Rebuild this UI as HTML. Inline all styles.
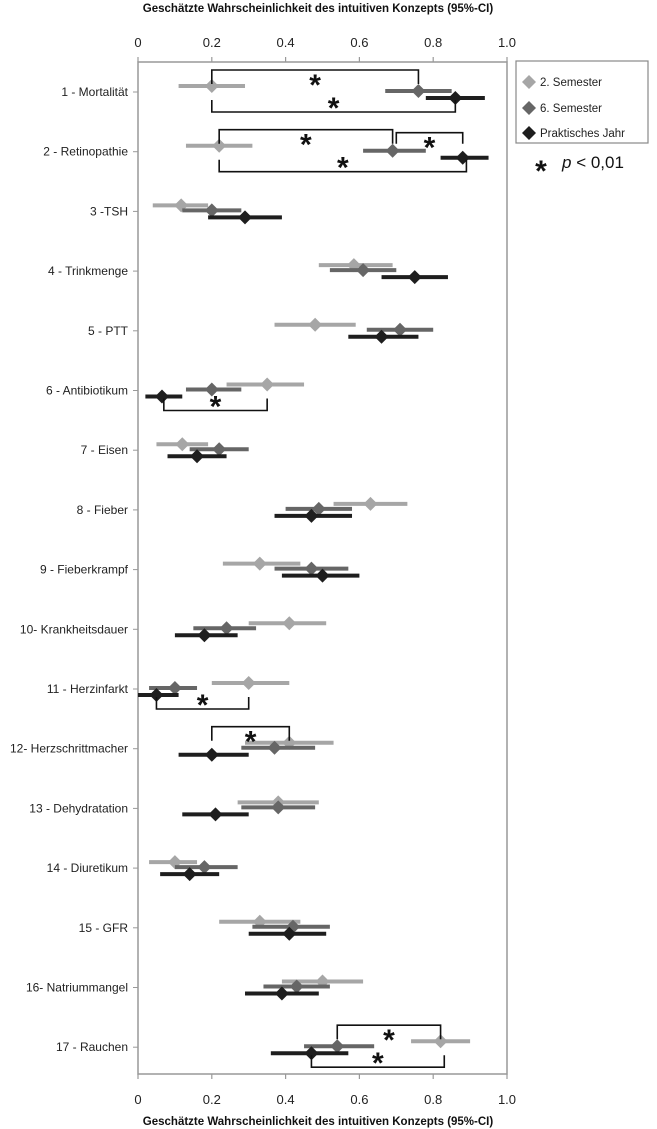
<!DOCTYPE html>
<html><head><meta charset="utf-8"><style>body{margin:0;background:#fff}svg{display:block;font-family:"Liberation Sans",Arial,sans-serif}</style></head>
<body>
<svg id="c" width="657" height="1129" viewBox="0 0 657 1129"></svg>
<script>
const categories=["1 - Mortalität","2 - Retinopathie","3 -TSH","4 - Trinkmenge","5 - PTT","6 - Antibiotikum","7 - Eisen","8 - Fieber","9 - Fieberkrampf","10- Krankheitsdauer","11 - Herzinfarkt","12- Herzschrittmacher","13 - Dehydratation","14 - Diuretikum","15 - GFR","16- Natriummangel","17 - Rauchen"];
const sem2=[0.20,0.22,0.117,0.585,0.48,0.35,0.12,0.63,0.33,0.41,0.30,0.41,0.38,0.10,0.33,0.50,0.82];
const sem2Lo=[0.11,0.13,0.04,0.49,0.37,0.24,0.05,0.53,0.23,0.30,0.20,0.29,0.27,0.03,0.22,0.39,0.74];
const sem2Hi=[0.29,0.31,0.19,0.69,0.59,0.45,0.19,0.73,0.44,0.51,0.41,0.53,0.49,0.16,0.44,0.61,0.90];
const sem6=[0.76,0.69,0.20,0.61,0.71,0.20,0.22,0.49,0.47,0.24,0.10,0.37,0.38,0.18,0.42,0.43,0.54];
const sem6Lo=[0.67,0.61,0.12,0.52,0.62,0.13,0.14,0.40,0.37,0.15,0.03,0.28,0.28,0.10,0.31,0.34,0.45];
const sem6Hi=[0.85,0.78,0.28,0.70,0.80,0.28,0.30,0.58,0.57,0.32,0.16,0.48,0.48,0.27,0.52,0.52,0.64];
const pj=[0.86,0.88,0.29,0.75,0.66,0.065,0.16,0.47,0.50,0.18,0.05,0.20,0.21,0.14,0.41,0.39,0.47];
const pjLo=[0.78,0.82,0.19,0.66,0.57,0.02,0.08,0.37,0.39,0.10,0.00,0.11,0.12,0.06,0.30,0.29,0.36];
const pjHi=[0.94,0.95,0.39,0.84,0.76,0.12,0.24,0.58,0.60,0.27,0.11,0.30,0.30,0.22,0.51,0.49,0.57];
const ticks=[0,0.2,0.4,0.6,0.8,1.0];
const tickLabels=["0","0.2","0.4","0.6","0.8","1.0"];
// significance brackets: row index, from value, to value, side
const sigRow=[0,0,1,1,1,5,10,11,16,16];
const sigFrom=[0.20,0.20,0.22,0.70,0.22,0.07,0.05,0.20,0.54,0.47];
const sigTo=[0.76,0.86,0.69,0.88,0.89,0.35,0.30,0.41,0.82,0.83];
const sigSide=["top","bottom","top","top","bottom","bottom","bottom","top","top","bottom"];

const NS="http://www.w3.org/2000/svg",svg=document.getElementById('c');
const X0=138,X1=507,Y0=62,Y1=1074;
const x=v=>X0+v*(X1-X0);
const y=i=>92+i*59.7;
function mk(t,a,p){const e=document.createElementNS(NS,t);for(const k in a)e.setAttribute(k,a[k]);(p||svg).appendChild(e);return e;}
let r=mk('rect',{x:X0,y:Y0,width:X1-X0,height:Y1-Y0,fill:'none',stroke:'#999','stroke-width':1.5});


ticks.forEach((t,i)=>{
  [[Y0,Y0-5,43],[Y1,Y1+5,1100]].forEach(([a,b,ty],j)=>{
    let l=mk('line',{x1:x(t),x2:x(t),y1:a,y2:b,stroke:'#999','stroke-width':1.2});
    
    
    let tx=mk('text',{x:x(t),y:ty+4,'text-anchor':'middle','font-size':13,fill:'#222'});tx.textContent=tickLabels[i];
    
    
  });
});
[[12,'top-axis-title'],[1125,'bottom-axis-title']].forEach(([ty,n])=>{
  let t=mk('text',{x:318,y:ty,'text-anchor':'middle','font-size':11.5,'font-weight':'bold',fill:'#111'});
  t.textContent='Geschätzte Wahrscheinlichkeit des intuitiven Konzepts (95%-CI)';
  
  
});
const series=[[sem2,sem2Lo,sem2Hi,'#a6a6a6',-6,'sem2'],[sem6,sem6Lo,sem6Hi,'#666',-1,'sem6'],[pj,pjLo,pjHi,'#1e1e1e',6,'pj']];
categories.forEach((c,i)=>{
  let t=mk('text',{x:128,y:y(i)+4,'text-anchor':'end','font-size':12,fill:'#222'});t.textContent=c;
  
  
  let tk=mk('line',{x1:X0-5,x2:X0,y1:y(i),y2:y(i),stroke:'#999'});
  
  
  series.forEach(([v,lo,hi,col,off,n])=>{
    const yy=y(i)+off;
    let l=mk('line',{x1:x(lo[i]),x2:x(hi[i]),y1:yy,y2:yy,stroke:col,'stroke-width':4});
    
    
    const cx=x(v[i]);
    let d=mk('polygon',{points:`${cx},${yy-7} ${cx+7},${yy} ${cx},${yy+7} ${cx-7},${yy}`,fill:col});
    
    
  });
});
// brackets
const topCount={};
sigRow.forEach((ri,k)=>{
  const a=x(sigFrom[k]),b=x(sigTo[k]);let yb,ye,sy;
  if(sigSide[k]=='top'){const n=topCount[ri]=(topCount[ri]||0)+1;
    yb=y(ri)-22+(n-1)*8;ye=y(ri)-8;
    if(ri==1&&n==2){yb=y(ri)-19;}
    sy=yb+25;
  }else{yb=y(ri)+20;ye=y(ri)+8;sy=yb+6;}
  let p=mk('path',{d:`M${a},${ye} L${a},${yb} L${b},${yb} L${b},${ye}`,fill:'none',stroke:'#111','stroke-width':1.6});
  
  
  let s=mk('text',{x:(a+b)/2,y:sy,'text-anchor':'middle','font-size':30,'font-weight':'bold',fill:'#111'});
  s.textContent='*';
  
  
});
// legend
let lg=mk('g',{});


mk('rect',{x:516,y:61,width:132,height:82,fill:'#fff',stroke:'#888','stroke-width':1.2},lg);
[['2. Semester','#a6a6a6',82],['6. Semester','#666',108],['Praktisches Jahr','#1e1e1e',133]].forEach(([t,col,yy])=>{
  let e=mk('g',{},lg);
  
  
  mk('polygon',{points:`529,${yy-7} 536,${yy} 529,${yy+7} 522,${yy}`,fill:col},e);
  let tx=mk('text',{x:540,y:yy+4,'font-size':11.5,fill:'#222'},e);tx.textContent=t;
});
let st=mk('text',{x:541,y:181,'text-anchor':'middle','font-size':30,'font-weight':'bold',fill:'#111'});st.textContent='*';


let pt=mk('text',{x:562,y:168,'font-size':17,fill:'#111'});pt.innerHTML='<tspan font-style="italic">p</tspan> &lt; 0,01';


</script>
</body></html>
